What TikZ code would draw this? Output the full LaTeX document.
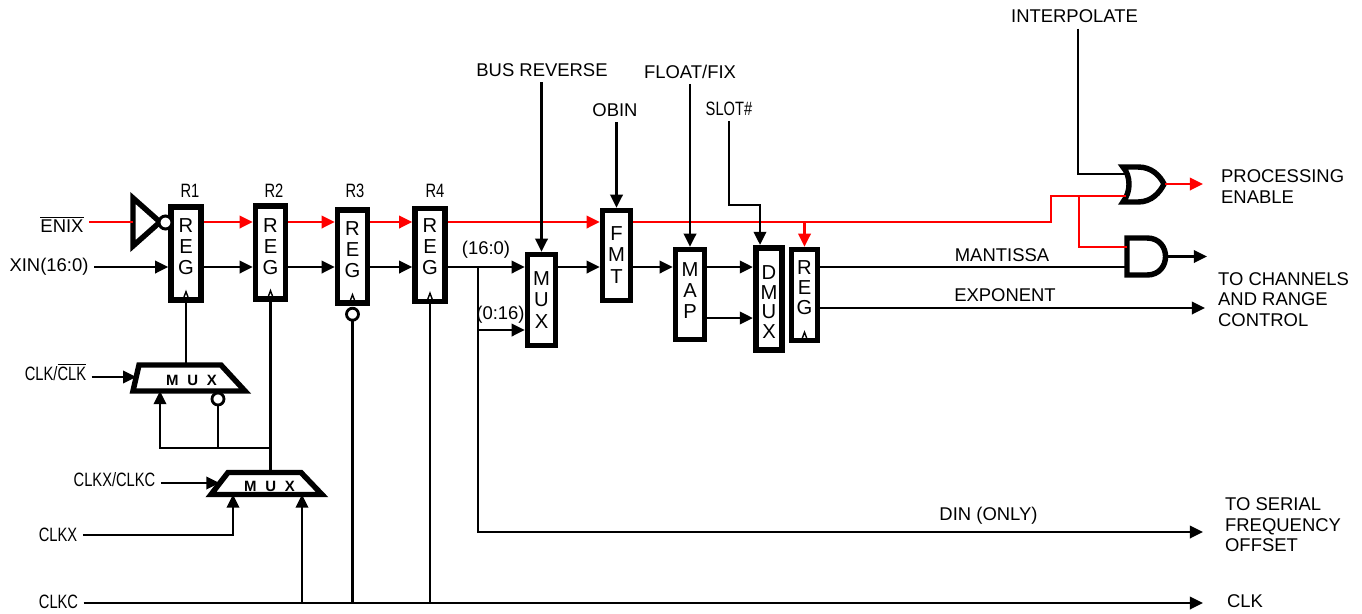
\documentclass[tikz,border=0pt]{standalone}
\usepackage{fontspec}
\setmainfont{Liberation Sans}
\newfontfamily\narrowfont{Liberation Sans}[FakeStretch=0.76]
\usetikzlibrary{arrows.meta}

\tikzset{
  wire/.style={line width=1.6pt},
  enwire/.style={line width=1.6pt, red},
  arr/.style={-{Triangle[length=7.5pt,width=7pt]}},
  regbox/.style={draw, line width=3.1pt, fill=white, minimum width=0.6cm, minimum height=1.86cm, inner sep=0pt},
  boxtxt/.style={font=\fontsize{11.5}{12}\selectfont, align=center, inner sep=0pt},
  lbl/.style={font=\fontsize{10.5}{11.6}\selectfont, inner sep=3pt},
  nlbl/.style={font=\narrowfont\fontsize{11}{12}\selectfont, inner sep=3pt},
  gate/.style={line width=3.1pt, fill=white},
  muxtxt/.style={font=\bfseries\fontsize{8.5}{9}\selectfont, inner sep=0pt},
  caret/.style={line width=0.8pt}
}

\begin{document}
\begin{tikzpicture}[x=0.02cm, y=-0.02cm]
    \useasboundingbox (0,0) rectangle (1362,613);

    % Signal rows
    \coordinate (en) at (0,222);
    \coordinate (dat) at (0,267);
    \coordinate (swap) at (0,330);
    \coordinate (mapb) at (0,318);
    \coordinate (ex) at (0,308);
    \coordinate (ck) at (0,603);

    % Input labels
    \node[lbl, anchor=base] (enix) at (62,232) {$\overline{\mbox{ENIX}}$};
    \node[lbl] (xin) at (49,267) {XIN(16:0)};
    \node[nlbl, anchor=base] (clksel) at (55.5,380) {CLK/$\overline{\mbox{CLK}}$};
    \node[nlbl] (clkxc) at (114.5,480) {CLKX/CLKC};
    \node[nlbl] (clkx) at (58,535) {CLKX};
    \node[nlbl] (clkc) at (58.5,602) {CLKC};

    % Control labels
    \node[lbl] (busrev) at (542,70) {BUS REVERSE};
    \node[lbl] (obin) at (615,110) {OBIN};
    \node[lbl] (flt) at (690,71.5) {FLOAT/FIX};
    \node[nlbl] (slot) at (729,109) {SLOT\#};
    \node[lbl] (interp) at (1074.5,16.5) {INTERPOLATE};

    % Register labels
    \node[nlbl] (r1l) at (190,191) {R1};
    \node[nlbl] (r2l) at (274,191) {R2};
    \node[nlbl] (r3l) at (355,191) {R3};
    \node[nlbl] (r4l) at (435,191) {R4};

    % Bus labels
    \node[lbl] (hi) at (486,250) {(16:0)};
    \node[lbl] (lo) at (500.5,314.5) {(0:16)};
    \node[lbl] (mant) at (1002,255) {MANTISSA};
    \node[lbl] (expo) at (1005,295) {EXPONENT};
    \node[lbl] (din) at (988.5,515.5) {DIN (ONLY)};

    % Output labels
    \node[lbl, anchor=west, align=left] (pe) at (1215.5,186.5) {PROCESSING\\ENABLE};
    \node[lbl, anchor=west, align=left] (chan) at (1212.5,299.5) {TO CHANNELS\\AND RANGE\\CONTROL};
    \node[lbl, anchor=west, align=left] (serial) at (1219.5,525) {TO SERIAL\\FREQUENCY\\OFFSET};
    \node[lbl, anchor=west] (clk) at (1221.5,601) {CLK};

    % Output ends
    \coordinate (peend) at (1203,184);
    \coordinate (andend) at (1207,256.5);
    \coordinate (expend) at (1205,308);
    \coordinate (dinend) at (1203,532);
    \coordinate (clkend) at (1203,603);

    % Registers
    \node[regbox] (r1) at (186,253.5) {};
    \node[regbox] (r2) at (270.5,252.5) {};
    \node[regbox] (r3) at (352.5,256.5) {};
    \node[regbox] (r4) at (430,255) {};
    \node[boxtxt] (r1t) at (186,246.5) {R\\E\\G};
    \node[boxtxt] (r2t) at (270.5,246.5) {R\\E\\G};
    \node[boxtxt] (r3t) at (352.5,249.5) {R\\E\\G};
    \node[boxtxt] (r4t) at (430,247) {R\\E\\G};

    % Data path blocks
    \node[regbox, minimum width=0.56cm, minimum height=1.82cm] (mux) at (541.5,300) {};
    \node[regbox, minimum width=0.56cm, minimum height=1.8cm] (fmt) at (616.5,255.5) {};
    \node[regbox, minimum width=0.58cm, minimum height=1.8cm] (map) at (690,294.5) {};
    \node[regbox, line width=3.5pt, minimum width=0.52cm, minimum height=2.04cm] (dmux) at (769,299) {};
    \node[regbox, minimum width=0.52cm, minimum height=1.82cm] (reg5) at (804.5,295) {};
    \node[boxtxt] (muxt) at (541.5,300) {M\\U\\X};
    \node[boxtxt] (fmtt) at (616.5,255) {F\\M\\T};
    \node[boxtxt] (mapt) at (690,290.5) {M\\A\\P};
    \node[boxtxt, font=\fontsize{11.5}{11.3}\selectfont] (dmuxt) at (769,302) {D\\M\\U\\X};
    \node[boxtxt, font=\fontsize{11.5}{11.5}\selectfont] (reg5t) at (804.5,287.5) {R\\E\\G};

    % Clock marks
    \draw[caret] ([shift={(-3,-3)}]r1.south) -- ++(3,-8) -- ++(3,8);
    \draw[caret] ([shift={(-3,-3)}]r2.south) -- ++(3,-8) -- ++(3,8);
    \draw[caret] ([shift={(-3,-3)}]r3.south) -- ++(3,-8) -- ++(3,8);
    \draw[caret] ([shift={(-3,-3)}]r4.south) -- ++(3,-8) -- ++(3,8);
    \draw[caret] ([shift={(-3,-3)}]reg5.south) -- ++(3,-8) -- ++(3,8);
    \draw[line width=1.6pt, fill=white] ([shift={(0,8.5)}]r3.south) circle[radius=0.12cm];
    \coordinate (r3b) at ([shift={(0,14.5)}]r3.south);

    % Inverter
    \draw[gate] (133,198) -- (160,222) -- (133,246) -- cycle;
    \draw[line width=1.7pt, fill=white] (165.5,222.5) circle[radius=0.13cm];
    \coordinate (invin) at (133,222);

    % Clock muxes
    \draw[gate] (139,365) -- (221,365) -- (245,391) -- (133,391) -- cycle;
    \node[muxtxt] (mux1) at (191.5,380.5) {M\hspace{5pt}U\hspace{5pt}X};
    \draw[line width=1.6pt, fill=white] (218,399) circle[radius=0.12cm];
    \coordinate (m1in) at (136.2,377);
    \coordinate (m1out) at (186,365);
    \coordinate (m1s0) at (160,391);
    \coordinate (m1s1) at (218,405);
    \coordinate (fb) at (270.5,448);

    \draw[gate] (228,472.5) -- (301,472.5) -- (322,494.5) -- (211,494.5) -- cycle;
    \node[muxtxt] (mux2) at (269.5,486) {M\hspace{5pt}U\hspace{5pt}X};
    \coordinate (m2in) at (219.5,483);
    \coordinate (m2out) at (270.5,472.5);
    \coordinate (m2s0) at (233,494.5);
    \coordinate (m2s1) at (302,494.5);

    % Gates
    \draw[gate] (1123,167) -- (1138,167) .. controls (1152,167) and (1160,176) .. (1164,184)
        .. controls (1160,192) and (1152,202) .. (1138,202) -- (1123,202)
        .. controls (1131,192) and (1131,176) .. (1123,167) -- cycle;
    \coordinate (orin1) at (1126,174);
    \coordinate (orin2) at (1126,196);
    \coordinate (orout) at (1165,184);
    \draw[gate] (1127,238) -- (1147,238) .. controls (1171.7,238) and (1171.7,275) .. (1147,275)
        -- (1127,275) -- cycle;
    \coordinate (andin1) at (1127,247);
    \coordinate (andin2) at (1127,267);
    \coordinate (andout) at (1166,256.5);

    % Enable path
    \draw[enwire] (enix.east |- en) -- (invin);
    \draw[enwire, arr] (r1.east |- en) -- (r2.west |- en);
    \draw[enwire, arr] (r2.east |- en) -- (r3.west |- en);
    \draw[enwire, arr] (r3.east |- en) -- (r4.west |- en);
    \draw[enwire, arr] (r4.east |- en) -- (fmt.west |- en);
    \coordinate (enk) at (1051,196);
    \draw[enwire] (fmt.east |- en) -| (enk) -- (orin2);
    \draw[enwire, arr] (reg5.north |- en) -- (reg5.north);
    \coordinate (andk) at (1079,247);
    \draw[enwire] (andk |- orin2) -- (andk) -- (andin1);
    \draw[enwire, arr] (orout) -- (peend);

    % Data path
    \draw[wire, arr] (xin.east |- dat) -- (r1.west |- dat);
    \draw[wire, arr] (r1.east |- dat) -- (r2.west |- dat);
    \draw[wire, arr] (r2.east |- dat) -- (r3.west |- dat);
    \draw[wire, arr] (r3.east |- dat) -- (r4.west |- dat);
    \draw[wire, arr] (r4.east |- dat) -- (mux.west |- dat);
    \coordinate (split) at (478,267);
    \draw[wire, arr] (split) |- (dinend);
    \draw[wire, arr] (split |- swap) -- (mux.west |- swap);
    \draw[wire, arr] (mux.east |- dat) -- (fmt.west |- dat);
    \draw[wire, arr] (fmt.east |- dat) -- (map.west |- dat);
    \draw[wire, arr] (map.east |- dat) -- (dmux.west |- dat);
    \draw[wire, arr] (map.east |- mapb) -- (dmux.west |- mapb);
    \draw[wire] (reg5.east |- dat) -- (andin2);
    \draw[wire, arr] (reg5.east |- ex) -- (expend);
    \draw[wire, arr] (andout) -- (andend);

    % Controls
    \draw[wire, arr] (busrev.south -| mux.north) -- (mux.north);
    \draw[wire, arr] (obin.south -| fmt.north) -- (fmt.north);
    \draw[wire, arr] (flt.south -| map.north) -- (map.north);
    \coordinate (slotk) at (760,205);
    \draw[wire, arr] (slot.south) |- (slotk) -- (slotk |- dmux.north);
    \coordinate (intk) at (1078,174);
    \draw[line width=1.2pt] (interp.south -| intk) -- (intk) -- (orin1);

    % Clocks
    \draw[wire] (m1out) -- (r1.south);
    \draw[wire] (m2out) -- (r2.south);
    \draw[wire] (r3.south |- ck) -- (r3b);
    \draw[wire] (r4.south |- ck) -- (r4.south);
    \draw[wire, arr] (clksel.east |- m1in) -- (m1in);
    \draw[wire, arr] (fb) -| (m1s0);
    \draw[wire] (m1s1 |- fb) -- (m1s1);
    \draw[wire, arr] (clkxc.east |- m2in) -- (m2in);
    \draw[wire, arr] (clkx.east) -| (m2s0);
    \draw[wire, arr] (clkc.east |- ck) -- (clkend);
    \draw[wire, arr] (m2s1 |- ck) -- (m2s1);
\end{tikzpicture}
\end{document}
